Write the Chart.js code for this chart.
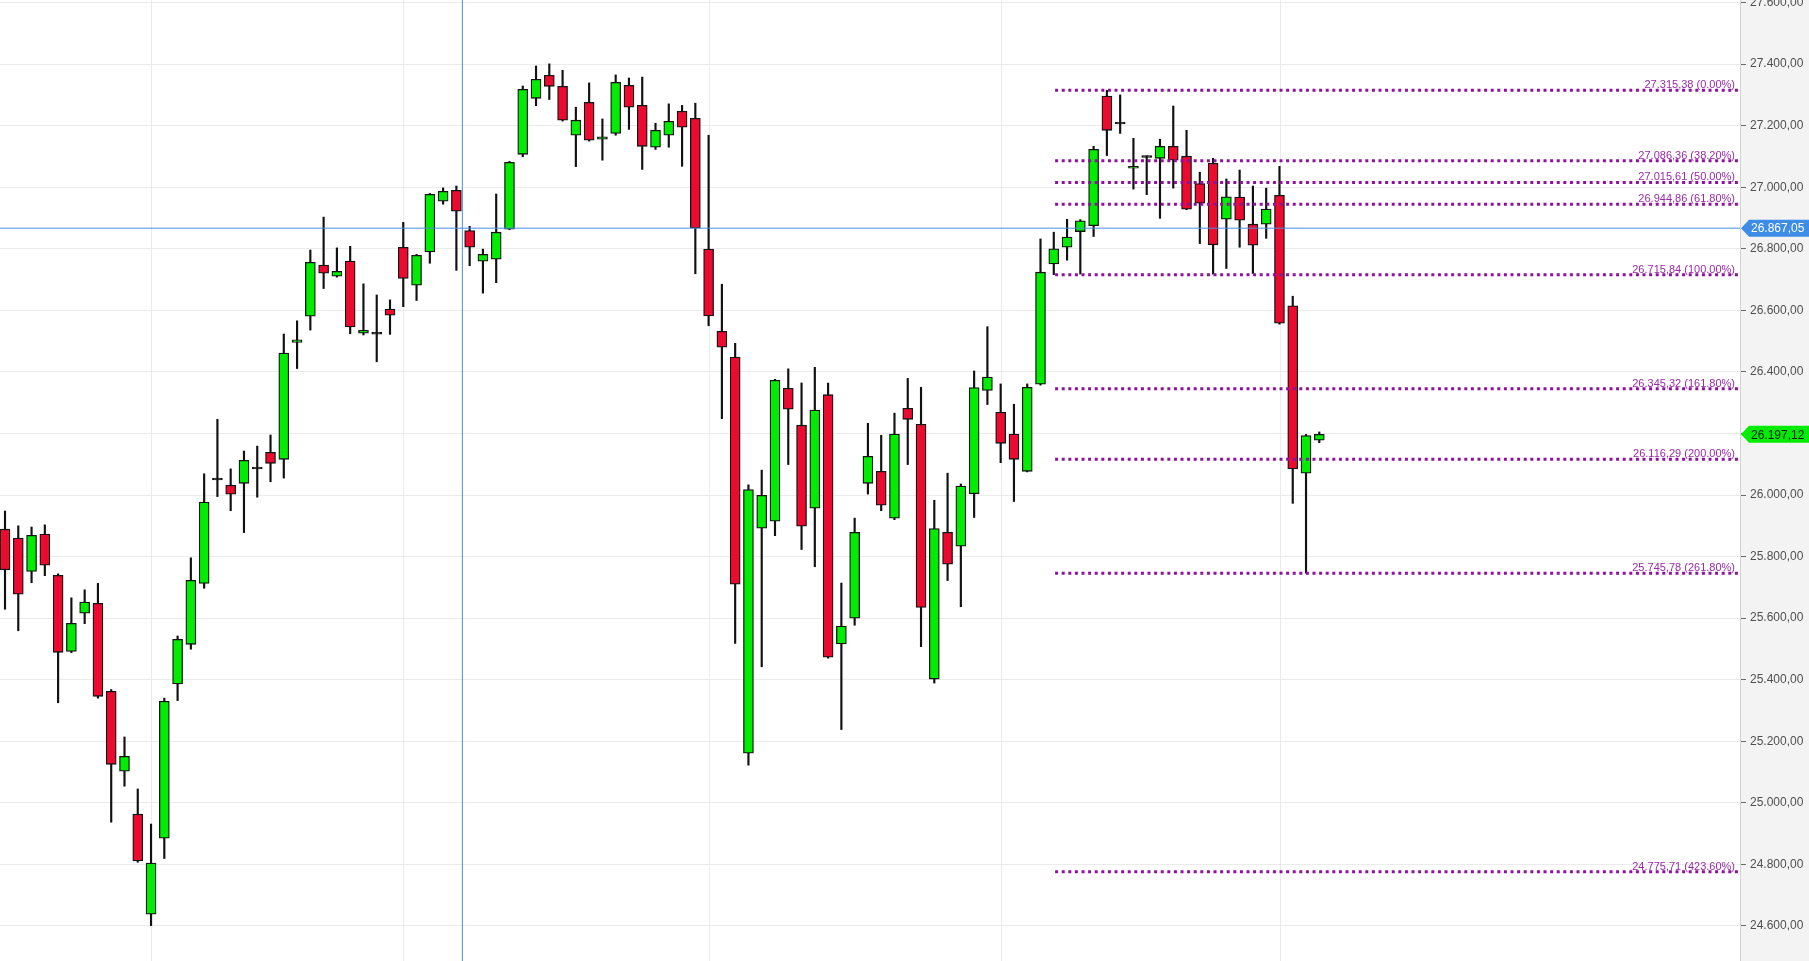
<!DOCTYPE html>
<html>
<head>
<meta charset="utf-8">
<title>Candlestick chart with Fibonacci levels</title>
<script src="https://cdn.jsdelivr.net/npm/chart.js@4.4.1/dist/chart.umd.min.js"></script>
<style>
  html, body { margin: 0; padding: 0; background: #fff; overflow: hidden; }
  canvas { display: block; }
</style>
</head>
<body>
<canvas id="chart" width="1809" height="961"></canvas>
<script>
// Daily sessions, oldest first (index = session number)
const opens = [
  25889, 25860, 25752, 25873, 25739, 25492, 25616, 25648, 25362, 25103,
  24963, 24638, 24885, 25386, 25515, 25713, 26052, 26032, 26038, 26088,
  26139, 26116, 26496, 26581, 26747, 26711, 26760, 26526, 26526, 26604,
  26805, 26682, 26790, 26955, 26990, 26859, 26760, 26766, 26864, 27107,
  27289, 27364, 27328, 27169, 27276, 27156, 27175, 27331, 27266, 27130,
  27169, 27247, 27224, 26799, 26532, 26448, 25161, 25892, 25915, 26347,
  26227, 25957, 26326, 25516, 25600, 26038, 26077, 25925, 26282, 26230,
  25402, 25879, 25834, 26004, 26340, 26269, 26198, 26077, 26360, 26751,
  26805, 26856, 26875, 27296, 27209, 27062, 27100, 27094, 27133, 27101,
  27012, 27078, 26896, 26968, 26880, 26880, 26974, 26615, 26071, 26178
];
const highs = [
  25948, 25900, 25896, 25903, 25744, 25666, 25692, 25713, 25368, 25214,
  25045, 24931, 25340, 25542, 25796, 26069, 26246, 26085, 26143, 26159,
  26195, 26523, 26566, 26796, 26903, 26803, 26808, 26686, 26650, 26634,
  26886, 26782, 26980, 26998, 27004, 26873, 26799, 26978, 27084, 27329,
  27394, 27401, 27380, 27260, 27339, 27222, 27365, 27355, 27358, 27208,
  27271, 27266, 27273, 27169, 26685, 26493, 26033, 26081, 26376, 26410,
  26364, 26415, 26364, 25714, 25925, 26233, 26194, 26266, 26379, 26350,
  25983, 26071, 26036, 26403, 26547, 26361, 26295, 26361, 26832, 26854,
  26896, 26895, 27133, 27315, 27300, 27159, 27102, 27156, 27264, 27185,
  27049, 27094, 27027, 27056, 27004, 26997, 27068, 26646, 26197, 26205
];
const lows = [
  25629, 25559, 25715, 25738, 25325, 25488, 25582, 25340, 24937, 25054,
  24807, 24601, 24819, 25332, 25499, 25697, 25995, 25949, 25878, 25993,
  26043, 26055, 26411, 26536, 26671, 26708, 26524, 26520, 26433, 26522,
  26612, 26632, 26753, 26945, 26730, 26745, 26656, 26690, 26862, 27099,
  27265, 27285, 27215, 27067, 27150, 27088, 27169, 27188, 27058, 27123,
  27130, 27068, 26719, 26550, 26248, 25518, 25122, 25442, 25868, 26099,
  25823, 25767, 25470, 25238, 25577, 26003, 25949, 25920, 26099, 25507,
  25389, 25722, 25637, 25927, 26294, 26105, 25979, 26075, 26357, 26716,
  26763, 26718, 26840, 27103, 27175, 26994, 26976, 26899, 26997, 26927,
  26817, 26718, 26736, 26805, 26720, 26834, 26555, 25973, 25746, 26170
];
const closes = [
  25757, 25678, 25869, 25772, 25489, 25583, 25652, 25346, 25125, 25151,
  24811, 24804, 25330, 25531, 25723, 25977, 26048, 26003, 26113, 26084,
  26103, 26461, 26504, 26756, 26721, 26727, 26546, 26535, 26522, 26584,
  26704, 26779, 26977, 26987, 26922, 26805, 26782, 26854, 27081, 27318,
  27351, 27328, 27218, 27218, 27153, 27164, 27341, 27260, 27133, 27185,
  27214, 27195, 26867, 26582, 26480, 25710, 26018, 25999, 26373, 26279,
  25899, 26276, 25473, 25574, 25879, 26126, 25967, 26198, 26246, 25635,
  25891, 25775, 26029, 26349, 26383, 26168, 26116, 26350, 26724, 26800,
  26838, 26891, 27123, 27185, 27205, 27068, 27096, 27133, 27088, 26929,
  26948, 26813, 26969, 26893, 26812, 26929, 26558, 26085, 26193, 26197.12
];

// Fibonacci retracement / extension levels
const fibLevels = [27315.38, 27086.36, 27015.61, 26944.86, 26715.84, 26345.32, 26116.29, 25745.78, 24775.71];
const fibPercents = [0, 38.2, 50, 61.8, 100, 161.8, 200, 261.8, 423.6];
const fibStart = 79.1;

// axes
const yTicks = [24600, 24800, 25000, 25200, 25400, 25600, 25800, 26000, 26200, 26400, 26600, 26800, 27000, 27200, 27400, 27600];
const monthLines = [11.05, 30.0, 53.05, 75.05, 96.05];
const yMin = 24486, yMax = 27608.4;
const xMin = -0.377, xMax = 130.69;

// crosshair
const crossX = 34.45;
const crossY = 26867.05;
const lastClose = closes[closes.length - 1];

const GREEN = '#00ec00';
const RED = '#ec0a2e';
const PURPLE = '#8e129e';
const BLUE = '#4a8fde';
const FONT = '"Liberation Sans", Arial, sans-serif';

function fmt(v) {
  const parts = v.toFixed(2).split('.');
  return parts[0].replace(/\B(?=(\d{3})+(?!\d))/g, '.') + ',' + parts[1];
}

const bodies = opens.map((o, i) => {
  const c = closes[i];
  return Math.abs(c - o) < 6 ? { x: i, y: [o - 3, o + 3] } : { x: i, y: [o, c] };
});
const bodyColors = opens.map((o, i) => {
  const c = closes[i];
  if (Math.abs(c - o) < 6) return '#111';
  return c > o ? GREEN : RED;
});
const wicks = lows.map((l, i) => ({ x: i, y: [l, highs[i]] }));

const fibDatasets = fibLevels.map(lv => ({
  type: 'line',
  data: [{ x: fibStart, y: lv }, { x: xMax, y: lv }],
  borderColor: PURPLE,
  borderWidth: 3,
  borderDash: [3, 3.6],
  pointRadius: 0,
  order: 1
}));

// grey price panel on the right
const panelBg = {
  id: 'panelBg',
  beforeDraw(chart) {
    const { ctx, chartArea, width, height } = chart;
    ctx.save();
    ctx.fillStyle = '#ffffff';
    ctx.fillRect(0, 0, width, height);
    ctx.fillStyle = '#f3f3f3';
    ctx.fillRect(chartArea.right, 0, width - chartArea.right, height);
    ctx.restore();
  }
};

// labels on the fibonacci lines
const fibText = {
  id: 'fibText',
  afterDatasetsDraw(chart) {
    const { ctx, chartArea, scales } = chart;
    ctx.save();
    ctx.font = '11px ' + FONT;
    ctx.fillStyle = '#9a2aa9';
    ctx.textAlign = 'right';
    ctx.textBaseline = 'alphabetic';
    fibLevels.forEach((lv, i) => {
      const y = scales.y.getPixelForValue(lv);
      ctx.fillText(fmt(lv) + ' (' + fibPercents[i].toFixed(2) + '%)', chartArea.right - 5, y - 2);
    });
    ctx.restore();
  }
};

function priceTag(ctx, left, right, y, bg, fg, text) {
  const h = 17;
  ctx.beginPath();
  ctx.moveTo(left + 1, y);
  ctx.lineTo(left + 9, y - h / 2);
  ctx.lineTo(right, y - h / 2);
  ctx.lineTo(right, y + h / 2);
  ctx.lineTo(left + 9, y + h / 2);
  ctx.closePath();
  ctx.fillStyle = bg;
  ctx.fill();
  ctx.fillStyle = fg;
  ctx.font = '12px ' + FONT;
  ctx.textAlign = 'left';
  ctx.textBaseline = 'middle';
  ctx.fillText(text, left + 11, y + 1);
}

const tags = {
  id: 'tags',
  afterDraw(chart) {
    const { ctx, chartArea, scales, width } = chart;
    ctx.save();
    priceTag(ctx, chartArea.right, width, scales.y.getPixelForValue(crossY), '#3d8de6', '#ffffff', fmt(crossY));
    priceTag(ctx, chartArea.right, width, scales.y.getPixelForValue(lastClose), '#00ec00', '#1a1a1a', fmt(lastClose));
    ctx.restore();
  }
};

new Chart(document.getElementById('chart'), {
  type: 'bar',
  data: {
    datasets: [
      {
        type: 'bar',
        data: bodies,
        backgroundColor: bodyColors,
        borderColor: '#141414',
        borderWidth: 1.3,
        borderSkipped: false,
        barThickness: 10,
        grouped: false,
        order: 3
      },
      {
        type: 'bar',
        data: wicks,
        backgroundColor: '#111',
        borderWidth: 0,
        barThickness: 1.5,
        grouped: false,
        order: 4
      },
      ...fibDatasets,
      {
        type: 'line',
        data: [{ x: xMin, y: crossY }, { x: xMax, y: crossY }],
        borderColor: BLUE,
        borderWidth: 1,
        pointRadius: 0,
        order: 0
      },
      {
        type: 'line',
        data: [{ x: crossX, y: yMin }, { x: crossX, y: yMax }],
        borderColor: BLUE,
        borderWidth: 1,
        pointRadius: 0,
        order: 0
      }
    ]
  },
  options: {
    responsive: false,
    animation: false,
    events: [],
    layout: { padding: 0 },
    plugins: {
      legend: { display: false },
      tooltip: { enabled: false }
    },
    scales: {
      x: {
        type: 'linear',
        min: xMin,
        max: xMax,
        offset: false,
        afterBuildTicks: scale => { scale.ticks = monthLines.map(v => ({ value: v })); },
        afterFit: scale => {
          scale.height = 0;
          scale.paddingLeft = 0; scale.paddingRight = 0;
        },
        ticks: { display: false },
        grid: { color: '#ebebeb', lineWidth: 1, drawTicks: false, offset: false },
        border: { display: false }
      },
      y: {
        type: 'linear',
        position: 'right',
        min: yMin,
        max: yMax,
        afterBuildTicks: scale => { scale.ticks = yTicks.map(v => ({ value: v })); },
        afterFit: scale => {
          scale.width = 69;
          scale.paddingTop = 0; scale.paddingBottom = 0;
        },
        ticks: {
          callback: v => fmt(v),
          color: '#4f4f4f',
          font: { family: FONT, size: 12 },
          padding: 4
        },
        grid: { color: '#ebebeb', lineWidth: 1, tickLength: 6, tickColor: '#6a6a6a' },
        border: { display: true, color: '#d4d4d4' }
      }
    }
  },
  plugins: [panelBg, fibText, tags]
});
</script>
</body>
</html>
